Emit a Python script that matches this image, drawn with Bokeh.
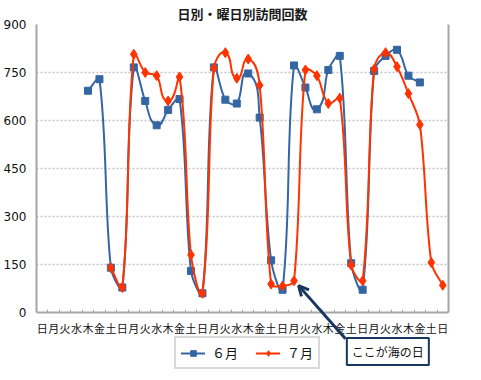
import math
from bokeh.plotting import figure
from bokeh.models import (FixedTicker, LinearAxis, Range1d, Legend, LegendItem,
                          Label, Arrow, OpenHead, ColumnDataSource)
from bokeh.embed import file_html
from bokeh.resources import INLINE

# ---------------- data ----------------
TITLE = "日別・曜日別訪問回数"
weekdays = ["日", "月", "火", "水", "木", "金", "土"]
day_labels = weekdays * 5 + ["日"]          # 36 calendar slots
june_offset = 4                              # 6/1 = 木
july_offset = 6                              # 7/1 = 土
june = [693, 729, 140, 78, 766, 661, 585, 633, 667, 130, 60, 766, 665, 653,
        747, 609, 163, 71, 772, 703, 635, 758, 802, 154, 71, 755, 802, 821,
        740, 719]
july = [140, 78, 807, 750, 740, 661, 736, 180, 60, 763, 812, 732, 792, 710,
        89, 83, 99, 758, 740, 653, 670, 148, 99, 760, 812, 768, 684, 587,
        156, 85]
y_ticks = [0, 150, 300, 450, 600, 750, 900]
series_names = ["６月", "７月"]
note_text = "ここが海の日"
holiday_day = 17                             # 7月17日 海の日

BLUE = "#3366a3"
RED = "#ff3300"
NAVY = "#17375e"
JP = "Noto Sans CJK JP"

FRAME_W = 412
PX_PER_UNIT_Y = 288 / 900
Y_MIN = -190.625
FRAME_H = round((900 - Y_MIN) * PX_PER_UNIT_Y)
n_slots = len(day_labels)
PX_PER_SLOT = FRAME_W / n_slots


def smooth(xs, ys, f=0.32):
    """Bezier segments (Excel-like smoothed line) through the data points."""
    n = len(xs)
    P = [(x * PX_PER_SLOT, y * PX_PER_UNIT_Y) for x, y in zip(xs, ys)]
    tang = []
    for i in range(n):
        a = P[i - 1] if i > 0 else P[i]
        b = P[i + 1] if i < n - 1 else P[i]
        dx, dy = b[0] - a[0], b[1] - a[1]
        L = math.hypot(dx, dy) or 1.0
        tang.append((dx / L, dy / L))
    d = dict(x0=[], y0=[], x1=[], y1=[], cx0=[], cy0=[], cx1=[], cy1=[])
    for i in range(n - 1):
        L = math.hypot(P[i + 1][0] - P[i][0], P[i + 1][1] - P[i][1]) * f
        c0 = (P[i][0] + tang[i][0] * L, P[i][1] + tang[i][1] * L)
        c1 = (P[i + 1][0] - tang[i + 1][0] * L, P[i + 1][1] - tang[i + 1][1] * L)
        d["x0"].append(xs[i]); d["y0"].append(ys[i])
        d["x1"].append(xs[i + 1]); d["y1"].append(ys[i + 1])
        d["cx0"].append(c0[0] / PX_PER_SLOT); d["cy0"].append(c0[1] / PX_PER_UNIT_Y)
        d["cx1"].append(c1[0] / PX_PER_SLOT); d["cy1"].append(c1[1] / PX_PER_UNIT_Y)
    return ColumnDataSource(d)


june_x = list(range(june_offset, june_offset + len(june)))
july_x = list(range(july_offset, july_offset + len(july)))

p = figure(frame_width=FRAME_W, frame_height=FRAME_H,
           min_border_left=34, min_border_right=19,
           min_border_top=19, min_border_bottom=0,
           x_range=Range1d(-0.5, n_slots - 0.5), y_range=Range1d(Y_MIN, 900),
           output_backend="svg", toolbar_location=None, tools="")
p.outline_line_color = None
p.background_fill_color = "white"
p.border_fill_color = "white"

p.title.text = TITLE
p.title.align = "center"
p.title.offset = 5
p.title.text_font = JP
p.title.text_font_size = "13px"
p.title.text_font_style = "bold"
p.title.text_color = "#1a1a1a"
p.title.standoff = 3

# axes
p.xaxis.fixed_location = 0
p.xaxis.ticker = FixedTicker(ticks=list(range(n_slots)),
                             minor_ticks=[i - 0.5 for i in range(n_slots + 1)])
p.xaxis.major_label_overrides = {i: t for i, t in enumerate(day_labels)}
p.xaxis.major_label_text_font = JP
p.xaxis.major_label_text_font_size = "11px"
p.xaxis.major_label_text_color = "#111111"
p.xaxis.major_tick_line_color = None
p.xaxis.major_tick_in = 0
p.xaxis.major_tick_out = 0
p.xaxis.minor_tick_in = 3
p.xaxis.minor_tick_out = 0
p.xaxis.minor_tick_line_color = "#a6a6a6"
p.xaxis.axis_line_color = "#a6a6a6"
p.xaxis.axis_line_width = 2
p.xaxis.major_label_standoff = 7

p.yaxis.ticker = FixedTicker(ticks=y_ticks)
p.yaxis.bounds = (0, 900)
p.yaxis.major_label_text_font = "DejaVu Sans"
p.yaxis.major_label_text_font_size = "12px"
p.yaxis.major_label_text_color = "#111111"
p.yaxis.major_tick_line_color = None
p.yaxis.minor_tick_line_color = None
p.yaxis.axis_line_color = "#a6a6a6"
p.yaxis.axis_line_width = 2
p.yaxis.major_label_standoff = 4

right = LinearAxis(ticker=FixedTicker(ticks=[]), bounds=(0, 900),
                   axis_line_color="#a6a6a6", axis_line_width=2,
                   major_tick_line_color=None, minor_tick_line_color=None,
                   major_label_text_font_size="0px")
p.add_layout(right, "right")

p.xgrid.visible = False
p.ygrid.ticker = FixedTicker(ticks=y_ticks[1:])
p.ygrid.grid_line_color = "#c4c4c4"
p.ygrid.grid_line_dash = "2 2"
p.ygrid.grid_line_width = 1.5

# series
bj = p.bezier("x0", "y0", "x1", "y1", "cx0", "cy0", "cx1", "cy1",
              source=smooth(june_x, june), line_color=BLUE, line_width=2,
              line_cap="round")
sj = p.scatter(june_x, june, marker="square", size=7, fill_color=BLUE,
               line_color=BLUE)
br = p.bezier("x0", "y0", "x1", "y1", "cx0", "cy0", "cx1", "cy1",
              source=smooth(july_x, july), line_color=RED, line_width=2,
              line_cap="round")
sr = p.scatter(july_x, july, marker="diamond", size=10, fill_color=RED,
               line_color=RED)

legend = Legend(items=[LegendItem(label=series_names[0], renderers=[bj, sj], index=0),
                       LegendItem(label=series_names[1], renderers=[br, sr], index=0)],
                orientation="horizontal", location=(138, 4),
                border_line_color="#b4b4b4", border_line_width=2,
                padding=5, margin=0, spacing=18, glyph_width=24,
                glyph_height=14, label_standoff=7,
                label_text_font=JP, label_text_font_size="13px",
                label_text_color="#111111", background_fill_alpha=1)
p.add_layout(legend, "center")

# annotation
hol_x = july_offset + holiday_day - 1
hol_y = july[holiday_day - 1]
p.add_layout(Arrow(end=OpenHead(size=10, line_color=NAVY, line_width=3),
                   x_start=hol_x + 4.5, y_start=-82,
                   x_end=hol_x + 0.4, y_end=hol_y - 15,
                   line_color=NAVY, line_width=3))
p.add_layout(Label(x=hol_x + 8.2, y=-122, text=note_text,
                   text_align="center", text_baseline="middle",
                   text_font=JP, text_font_size="12px",
                   text_color="#111111",
                   border_line_color=NAVY, border_line_width=2,
                   background_fill_color="white", padding=5))

open("out.html", "w").write(file_html(p, INLINE))
